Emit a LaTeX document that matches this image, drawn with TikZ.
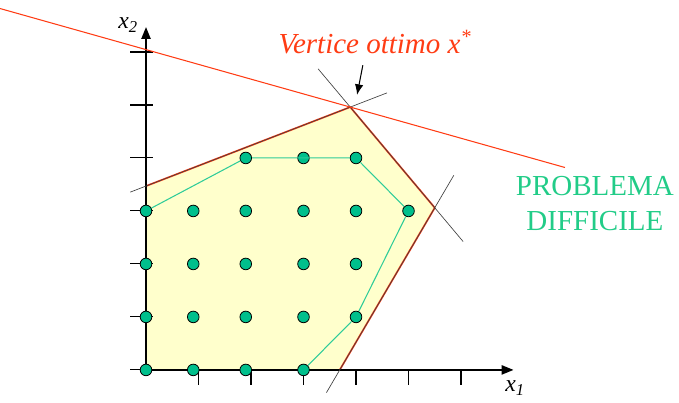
\documentclass[tikz,border=0pt]{standalone}
\usepackage{fontspec}
\setmainfont{Liberation Serif}
\usetikzlibrary{positioning,calc,arrows.meta}
\definecolor{lpred}{HTML}{FF3C14}
\definecolor{lpfill}{HTML}{FFFFCC}
\definecolor{hullgreen}{HTML}{2ECC99}
\definecolor{dotgreen}{HTML}{00BF8C}
\definecolor{labelgreen}{HTML}{22CC88}

\begin{document}
\begin{tikzpicture}[x=1.4cm, y=1.413cm,
  declare function={colx(\c)=\c-0.1*(\c==1)-0.1*(\c==2);},
  axisline/.style={line width=1.2pt, -{Triangle[length=9pt,width=7pt]}},
  axtick/.style={line width=0.8pt},
  cut/.style={line width=0.5pt, black!75},
  obj/.style={lpred, line width=0.8pt},
  region/.style={fill=lpfill, draw=lpred, line width=1.3pt, line join=round},
  hull/.style={hullgreen, line width=0.8pt},
  dot/.style={circle, fill=dotgreen, draw=black, line width=0.6pt,
              minimum size=0.31cm, inner sep=0pt},
  vlabel/.style={font=\fontsize{22}{26}\selectfont\itshape, text=lpred},
  plabel/.style={font=\fontsize{22}{26.5}\selectfont, text=labelgreen,
                 align=center, inner sep=0pt},
  axlabel/.style={font=\fontsize{18}{20}\selectfont},
]
\useasboundingbox (-2.781,-0.623) rectangle (10.152,6.981);

% Feasible region (vertices of the LP polytope)
\coordinate (P0) at (0,0);
\coordinate (P1) at (0,3.47);
\coordinate (P2) at (3.89,4.96);
\coordinate (P3) at (5.5,3.06);
\coordinate (P4) at (3.69,0);
\draw[region] (P0) -- (P1) -- (P2) -- (P3) -- (P4) -- cycle;

% Axes
\coordinate (O) at (0,0);
\coordinate (xend) at (7.0,0);
\coordinate (yend) at (0,6.47);
\draw[axisline] (O) -- (xend);
\draw[axisline] (O) -- (yend);
\foreach \i in {1,...,6}
  \draw[axtick] (\i,0) -- (\i,-0.28);
\foreach \j in {0,...,6}
  \draw[axtick] (-0.3,\j) -- (0.13,\j);
\node[axlabel] (xlab) at (7.03,-0.34) {\textit{x\textsubscript{1}}};
\node[axlabel] (ylab) at (-0.34,6.51) {\textit{x\textsubscript{2}}};

% Constraint lines through the vertices (a hair inside the red border)
\draw[cut, shift={(0.3pt,-0.9pt)}] ($(P1)!-0.077!(P2)$) -- ($(P1)!1.18!(P2)$);
\draw[cut, shift={(-0.7pt,-0.6pt)}] ($(P2)!-0.38!(P3)$) -- ($(P2)!1.335!(P3)$);
\draw[cut, shift={(-0.8pt,0.4pt)}] ($(P3)!-0.2!(P4)$) -- ($(P3)!1.14!(P4)$);

% Objective function
\coordinate (objL) at (-2.78,6.82);
\coordinate (objR) at (7.98,3.82);
\draw[obj] (objL) -- (objR);

% Integer points
\foreach \r/\first/\last in {0/0/3,1/0/4,2/0/4,3/0/5,4/2/4}
  \foreach \c in {\first,...,\last}
    \node[dot] (d\c\r) at ({colx(\c)},\r) {};

% Convex hull of the integer points
\draw[hull] (d03) -- (d24) -- (d44) -- (d53) -- (d41) -- (d30);

% Labels
\node[vlabel, anchor=base] (vert) at (4.36,5.98) {Vertice ottimo x\textsuperscript{*}};
\coordinate (arrS) at (4.13,5.75);
\coordinate (arrE) at (4.02,5.19);
\draw[line width=0.8pt, -{Latex[length=8pt,width=6.5pt]}] (arrS) -- (arrE);
\node[plabel, anchor=north] (hard) at (8.55,3.66) {PROBLEMA\\DIFFICILE};

\end{tikzpicture}
\end{document}
